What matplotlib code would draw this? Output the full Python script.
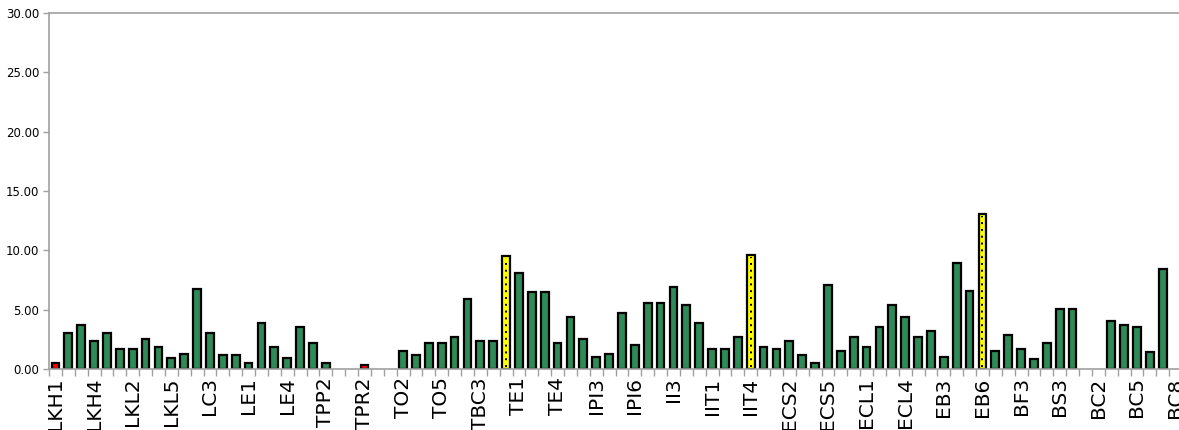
import numpy as np
import matplotlib
matplotlib.use("Agg")
import matplotlib.pyplot as plt

labels = [
    "LKH1", "LKH2", "LKH3", "LKH4", "LKH5", "LKL1", "LKL2", "LKL3", "LKL4", "LKL5",
    "LC1", "LC2", "LC3", "LC4", "LC5", "LE1", "LE2", "LE3", "LE4", "LE5",
    "TPP1", "TPP2", "TPP3", "TPR1", "TPR2", "TPR3", "TO1", "TO2", "TO3", "TO4",
    "TO5", "TBC1", "TBC2", "TBC3", "TBC4", "TBC5", "TE1", "TE2", "TE3", "TE4",
    "IPI1", "IPI2", "IPI3", "IPI4", "IPI5", "IPI6", "II1", "II2", "II3", "II4",
    "II5", "IIT1", "IIT2", "IIT3", "IIT4", "IIT5", "ECS1", "ECS2", "ECS3", "ECS4",
    "ECS5", "ECS6", "ECS7", "ECL1", "ECL2", "ECL3", "ECL4", "EB1", "EB2", "EB3",
    "EB4", "EB5", "EB6", "BF1", "BF2", "BF3", "BS1", "BS2", "BS3", "BS4",
    "BC1", "BC2", "BC3", "BC4", "BC5", "BC6", "BC7", "BC8",
]

values = [
    0.5, 3.0, 3.7, 2.4, 3.0, 1.7, 1.7, 2.55, 1.85, 0.9,
    1.3, 6.75, 3.0, 1.2, 1.2, 0.5, 3.85, 1.85, 0.9, 3.55,
    2.2, 0.5, 0.0, 0.0, 0.35, 0.0, 0.0, 1.55, 1.2, 2.2,
    2.2, 2.7, 5.9, 2.4, 2.4, 9.5, 8.1, 6.45, 6.45, 2.2,
    4.4, 2.5, 1.0, 1.3, 4.7, 2.0, 5.6, 5.6, 6.9, 5.4,
    3.9, 1.7, 1.7, 2.7, 9.6, 1.85, 1.7, 2.4, 1.2, 0.5,
    7.1, 1.55, 2.7, 1.85, 3.55, 5.4, 4.4, 2.7, 3.2, 1.0,
    8.95, 6.6, 13.05, 1.55, 2.9, 1.7, 0.85, 2.2, 5.05, 5.05,
    0.0, 0.0, 4.05, 3.75, 3.55, 1.4, 8.45, 0.0,
]

red_items = ["LKH1", "TPR2"]
yellow_items = ["TBC5", "IIT4", "EB6"]

y_ticks = [0, 5, 10, 15, 20, 25, 30]

fig = plt.figure(figsize=(11.79, 4.30), dpi=100)
# axis runs a little past the right edge of the picture
ax = fig.add_axes([49 / 1179, 61 / 430, 1133 / 1179, 356 / 430])

x = np.arange(len(labels))
vals = np.array(values)
colors = []
for name in labels:
    if name in red_items:
        colors.append("#ff0000")
    elif name in yellow_items:
        colors.append("#ffff00")
    else:
        colors.append("#2e8b57")

# empty categories get no bar at all
keep = vals > 0
ax.bar(x[keep], vals[keep], width=0.6, color=np.array(colors)[keep],
       edgecolor="black", linewidth=1.6, zorder=2)

# dotted pattern inside the yellow bars
idx_y = [labels.index(n) for n in yellow_items]
ax.vlines(x[idx_y], 0.15, vals[idx_y] - 0.15,
          colors="black", linestyles=(0, (1, 2.5)), linewidth=1.4, zorder=3)

ax.set_xlim(-0.5, len(labels) - 0.5)
ax.set_ylim(0, 30)

ax.set_yticks(y_ticks)
ax.set_yticklabels([f"{v:.2f}" for v in y_ticks], fontsize=8.5)

ax.set_xticks(x[::3])
ax.set_xticklabels(labels[::3], rotation=90, fontsize=14.5)
ax.set_xticks(np.arange(-0.5, len(labels), 1), minor=True)
ax.tick_params(axis="x", which="major", length=0, pad=6)
ax.tick_params(axis="x", which="minor", length=5, color="#a0a0a0", width=1)
ax.tick_params(axis="y", length=4, color="#a0a0a0", width=1, pad=3)

for side in ["left", "bottom", "top"]:
    ax.spines[side].set_color("#a0a0a0")
    ax.spines[side].set_linewidth(1.2)
ax.spines["right"].set_visible(False)

fig.savefig("out.png", dpi=100)
